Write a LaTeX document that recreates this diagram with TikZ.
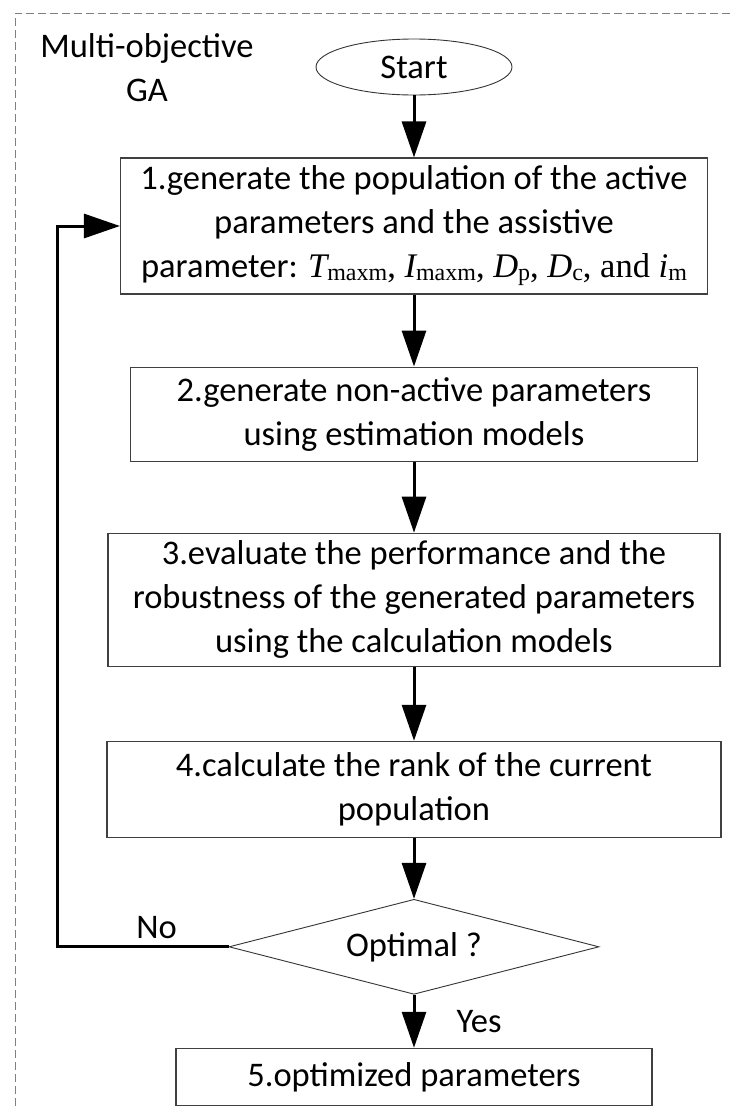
\documentclass[tikz,border=0pt]{standalone}
\usepackage{fontspec}
\setmainfont{Carlito}
\newfontfamily\tms{Liberation Serif}
\usepackage{tikz}
\usetikzlibrary{arrows.meta,positioning,shapes.geometric}

\newcommand{\pvar}[2]{{\itshape #1}\raisebox{-3pt}{\fontsize{24}{24}\selectfont #2}}

\begin{document}
\begin{tikzpicture}[
    x=1pt,y=1pt,
    font=\fontsize{34.5}{44}\selectfont,
    box/.style={draw=black!75,line width=1.1pt,align=flush center,inner sep=0pt},
    term/.style={draw=black!80,line width=0.9pt,ellipse,minimum width=196pt,minimum height=56pt,inner sep=0pt},
    dec/.style={draw=black!80,line width=0.9pt,diamond,aspect=3.9,minimum width=370pt,minimum height=95pt,inner sep=0pt},
    arr/.style={-{Triangle[length=36pt,width=24pt]},line width=3pt},
    frame/.style={draw=black!50,line width=1pt,dash pattern=on 8pt off 4pt}
]
\useasboundingbox (0,0) rectangle (732,-1106);
\draw[frame] (15,-1106) -- (15,-13) -- (732,-13);

\node[align=center] (ga) at (147,-68) {Multi-objective\\GA};
\node[term] (start) at (414,-67) {Start};

\node[box,text width=587pt,minimum height=136pt,below=62pt of start] (s1)
  {1.generate the population of the active\\parameters and the assistive\\parameter: {\tms\pvar{T}{maxm}, \pvar{I}{maxm}, \pvar{D}{p}, \pvar{D}{c}, and \pvar{i}{m}}};
\node[box,text width=567pt,minimum height=94pt,below=72pt of s1] (s2)
  {2.generate non-active parameters\\using estimation models};
\node[box,text width=612pt,minimum height=133pt,below=71pt of s2] (s3)
  {3.evaluate the performance and the\\robustness of the generated parameters\\using the calculation models};
\node[box,text width=614pt,minimum height=96pt,below=74pt of s3] (s4)
  {4.calculate the rank of the current\\population};
\node[dec,below=61pt of s4] (opt) {Optimal ?};
\node[box,text width=476pt,minimum height=57pt,below=53pt of opt] (s5)
  {5.optimized parameters};

\coordinate (turn) at (57,0);

\draw[arr] (start) -- (s1);
\draw[arr] (s1) -- (s2);
\draw[arr] (s2) -- (s3);
\draw[arr] (s3) -- (s4);
\draw[arr] (s4) -- (opt);
\draw[arr] (opt) -- node[right=41pt,inner sep=0pt]{Yes} (s5);
\draw[arr] (opt.west) -- node[above=7pt,pos=0.42,inner sep=0pt]{No} (opt.west -| turn) |- (s1.west);
\end{tikzpicture}
\end{document}
